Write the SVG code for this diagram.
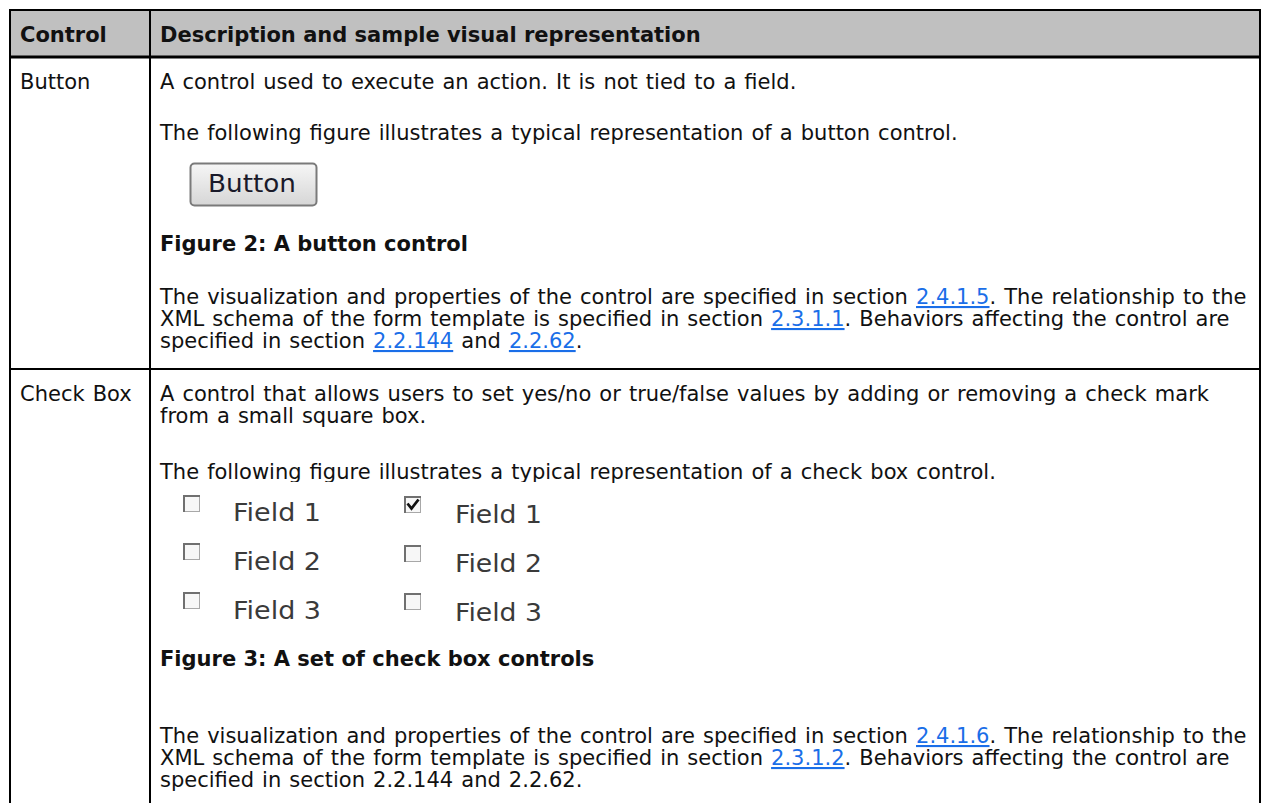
<svg xmlns="http://www.w3.org/2000/svg" width="1262" height="803" viewBox="0 0 1262 803">
<defs>
<style>
.t{font-family:"DejaVu Sans","Verdana",sans-serif;font-size:21px;fill:#111}
.r{word-spacing:1.4px}
.b{font-weight:bold}
.lk{fill:#1a6ee8;text-decoration:underline}
.fl{font-family:"DejaVu Sans","Verdana",sans-serif;font-size:25px;fill:#3a3a3a}
.grid{stroke:#000;stroke-width:2;fill:none}
.cb{fill:#f7f7f7;stroke:#a8a8a8;stroke-width:1}
.cbe{stroke:#707070;stroke-width:2;fill:none}
</style>
<linearGradient id="btng" x1="0" y1="0" x2="0" y2="1">
<stop offset="0" stop-color="#f6f6f6"/>
<stop offset="1" stop-color="#d6d6d6"/>
</linearGradient>
</defs>
<rect width="1262" height="803" fill="#fff"/>
<g id="table">
<rect x="10" y="10" width="1250" height="47" fill="#c0c0c0"/>
<g class="grid">
<line x1="10" y1="10" x2="1260" y2="10"/>
<line x1="10" y1="57" x2="1260" y2="57" stroke-width="3"/>
<line x1="10" y1="369" x2="1260" y2="369"/>
<line x1="10" y1="9" x2="10" y2="803"/>
<line x1="150" y1="9" x2="150" y2="803"/>
<line x1="1260" y1="9" x2="1260" y2="803"/>
</g>
</g>
<g id="header">
<text class="t b" x="20" y="42">Control</text>
<text class="t b" x="160" y="42">Description and sample visual representation</text>
</g>
<g id="row-button">
<text class="t r" x="20" y="89">Button</text>
<text class="t r" x="160" y="89">A control used to execute an action. It is not tied to a field.</text>
<text class="t r" x="160" y="140">The following figure illustrates a typical representation of a button control.</text>
<g id="button-image">
<rect x="190.5" y="163.5" width="126" height="42" rx="4" fill="url(#btng)" stroke="#7a7a7a" stroke-width="2"/>
<text x="208" y="192" font-family="DejaVu Sans, Verdana, sans-serif" font-size="25" fill="#1a1a2a" textLength="88" lengthAdjust="spacingAndGlyphs">Button</text>
</g>
<text class="t b" x="160" y="251">Figure 2: A button control</text>
<text class="t r" x="160" y="304">The visualization and properties of the control are specified in section <tspan class="lk">2.4.1.5</tspan>. The relationship to the</text>
<text class="t r" x="160" y="326">XML schema of the form template is specified in section <tspan class="lk">2.3.1.1</tspan>. Behaviors affecting the control are</text>
<text class="t r" x="160" y="348">specified in section <tspan class="lk">2.2.144</tspan> and <tspan class="lk">2.2.62</tspan>.</text>
</g>
<g id="row-checkbox">
<text class="t r" x="20" y="401">Check Box</text>
<text class="t r" x="160" y="401">A control that allows users to set yes/no or true/false values by adding or removing a check mark</text>
<text class="t r" x="160" y="423">from a small square box.</text>
<text class="t r" x="160" y="479">The following figure illustrates a typical representation of a check box control.</text>
<g id="checkbox-image">
<rect x="165" y="482" width="395" height="158" fill="#fff"/>
<g>
<rect class="cb" x="183.5" y="495.5" width="16" height="16"/>
<path class="cbe" d="M184 512 V496 H200"/>
<rect class="cb" x="183.5" y="543.5" width="16" height="16"/>
<path class="cbe" d="M184 560 V544 H200"/>
<rect class="cb" x="183.5" y="592.5" width="16" height="16"/>
<path class="cbe" d="M184 609 V593 H200"/>
<rect class="cb" x="404.5" y="496.5" width="16" height="16"/>
<path class="cbe" d="M405 513 V497 H421"/>
<path d="M407.5 503.5 L411.5 508.5 L418.5 499.5" stroke="#111" stroke-width="2.8" fill="none"/>
<rect class="cb" x="404.5" y="545.5" width="16" height="16"/>
<path class="cbe" d="M405 562 V546 H421"/>
<rect class="cb" x="404.5" y="593.5" width="16" height="16"/>
<path class="cbe" d="M405 610 V594 H421"/>
</g>
<text class="fl" x="233" y="521" textLength="88" lengthAdjust="spacingAndGlyphs">Field 1</text>
<text class="fl" x="233" y="570" textLength="88" lengthAdjust="spacingAndGlyphs">Field 2</text>
<text class="fl" x="233" y="619" textLength="88" lengthAdjust="spacingAndGlyphs">Field 3</text>
<text class="fl" x="455" y="523" textLength="87" lengthAdjust="spacingAndGlyphs">Field 1</text>
<text class="fl" x="455" y="572" textLength="87" lengthAdjust="spacingAndGlyphs">Field 2</text>
<text class="fl" x="455" y="621" textLength="87" lengthAdjust="spacingAndGlyphs">Field 3</text>
</g>
<text class="t b" x="160" y="666">Figure 3: A set of check box controls</text>
<text class="t r" x="160" y="743">The visualization and properties of the control are specified in section <tspan class="lk">2.4.1.6</tspan>. The relationship to the</text>
<text class="t r" x="160" y="765">XML schema of the form template is specified in section <tspan class="lk">2.3.1.2</tspan>. Behaviors affecting the control are</text>
<text class="t r" x="160" y="787">specified in section 2.2.144 and 2.2.62.</text>
</g>
</svg>
